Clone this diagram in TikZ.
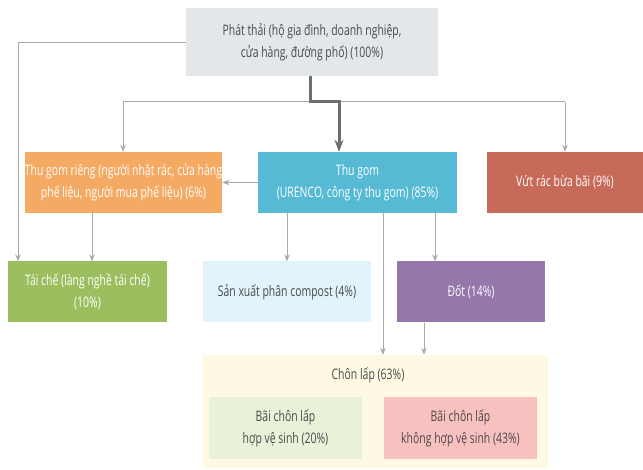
\documentclass[tikz,border=0pt]{standalone}
\usepackage{fontspec}
\setmainfont[FakeStretch=0.72]{Open Sans}
\usetikzlibrary{arrows.meta}
\definecolor{topfill}{HTML}{E3E7EA}
\definecolor{orangefill}{HTML}{F4AA63}
\definecolor{cyanfill}{HTML}{56BAD5}
\definecolor{redfill}{HTML}{C86A5A}
\definecolor{greenfill}{HTML}{9DBE5E}
\definecolor{bluefill}{HTML}{E2F3FC}
\definecolor{purplefill}{HTML}{9577AB}
\definecolor{yellowfill}{HTML}{FDF9E3}
\definecolor{palegreen}{HTML}{E9F1D8}
\definecolor{pinkfill}{HTML}{F8C0BF}
\definecolor{linegray}{HTML}{A6A8AB}
\definecolor{darkline}{HTML}{6D6E70}
\definecolor{textdark}{HTML}{4A4A4C}
\begin{document}
\begin{tikzpicture}[x=1pt,y=-1pt,
  box/.style={minimum width=#1, minimum height=61pt, inner sep=0pt, align=center,
    font=\fontsize{14.5}{22}\selectfont},
  flow/.style={draw=linegray, line width=1pt, -{Stealth[length=7pt,width=5.5pt]}},
  mainflow/.style={draw=darkline, line width=3pt, -{Stealth[length=12pt,width=9pt]}}]
\useasboundingbox (0,0) rectangle (643,470);

% source box
\node[box=252pt, minimum height=68pt, fill=topfill, text=textdark] (src) at (312,42)
  {Phát thải (hộ gia đình, doanh nghiệp,\\cửa hàng, đường phố) (100\%)};

% second row
\node[box=197pt, fill=orangefill, text=white] (rieng) at (123.5,182.5)
  {Thu gom riêng (người nhặt rác, cửa hàng\\phế liệu, người mua phế liệu) (6\%)};
\node[box=199pt, fill=cyanfill, text=white] (thugom) at (357.5,182.5)
  {Thu gom\\(URENCO, công ty thu gom) (85\%)};
\node[box=156pt, fill=redfill, text=white] (vutrac) at (565,182.5)
  {Vứt rác bừa bãi (9\%)};

% third row
\node[box=159pt, fill=greenfill, text=white] (taiche) at (87.5,292)
  {Tái chế (làng nghề tái chế)\\(10\%)};
\node[box=168pt, fill=bluefill, text=textdark] (compost) at (287,292)
  {Sản xuất phân compost (4\%)};
\node[box=148pt, fill=purplefill, text=white] (dot) at (471,292)
  {Đốt (14\%)};

% landfill group
\node[minimum width=345pt, minimum height=113pt, inner sep=0pt, fill=yellowfill] (chonlap) at (375.5,411.5) {};
\node[font=\fontsize{14.5}{22}\selectfont, text=textdark] (chonlaplbl) at (368,375) {Chôn lấp (63\%)};
\node[box=153pt, minimum height=62pt, fill=palegreen, text=textdark] (hvs) at (285.5,428)
  {Bãi chôn lấp\\hợp vệ sinh (20\%)};
\node[box=153pt, minimum height=62pt, fill=pinkfill, text=textdark] (khvs) at (460.5,428)
  {Bãi chôn lấp\\không hợp vệ sinh (43\%)};

% connectors
\coordinate (split) at (123,102);
\draw[draw=linegray, line width=1pt] (split) -- (vutrac.north |- split);
\draw[flow] (split) -- (rieng.north -| split);
\draw[flow] (vutrac.north |- split) -- (vutrac.north);
\draw[flow] (src.west |- 0,43) -- (18,43) -- (taiche.north -| 18,0);
\draw[mainflow] (310,76) -- (310,102) -- (339,102) -- (thugom.north -| 339,0);
\draw[flow] (thugom.west) -- (rieng.east);
\draw[flow] (rieng.south -| 92,0) -- (taiche.north -| 92,0);
\draw[flow] (thugom.south -| 287,0) -- (compost.north);
\draw[flow] (thugom.south -| 383,0) -- (chonlap.north -| 383,0);
\draw[flow] (thugom.south -| 435,0) -- (dot.north -| 435,0);
\draw[flow] (dot.south -| 424,0) -- (chonlap.north -| 424,0);
\end{tikzpicture}
\end{document}
